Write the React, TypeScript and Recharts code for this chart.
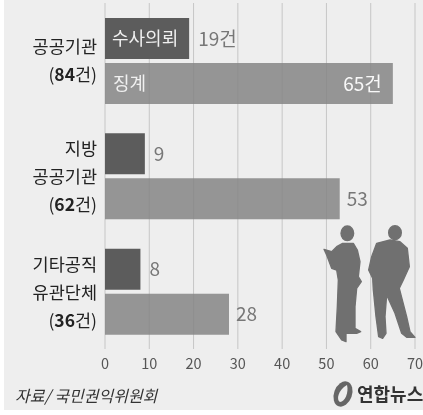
import { BarChart, Bar, XAxis, YAxis, CartesianGrid, LabelList } from 'recharts'

const CATEGORIES = ['공공기관 (84건)', '지방 공공기관 (62건)', '기타공직 유관단체 (36건)']
const CATEGORY_LINES = [
  ['공공기관'],
  ['지방', '공공기관'],
  ['기타공직', '유관단체'],
]
const CATEGORY_TOTALS = ['84', '62', '36']
const REFERRAL = [19, 9, 8]
const DISCIPLINE = [65, 53, 28]
const REFERRAL_LABELS = ['19건', '9', '8']
const DISCIPLINE_LABELS = ['65건', '53', '28']
const TICKS = [0, 10, 20, 30, 40, 50, 60, 70]

const data = CATEGORIES.map((name, i) => ({
  name,
  referral: REFERRAL[i],
  discipline: DISCIPLINE[i],
}))

const FONT = '"Noto Sans CJK KR", "Noto Sans", sans-serif'
const LINE_GAP = 28

function CategoryTick({ x, y, payload, index }: any) {
  const row = payload?.index ?? index
  const lines = CATEGORY_LINES[row] ?? []
  const start = y - (lines.length * LINE_GAP) / 2 + 6 + row
  const tx = x + 8
  return (
    <text x={tx} y={start} textAnchor="end" fontFamily={FONT} fontSize={17.5} fill="#222">
      {lines.map((line, i) => (
        <tspan key={line} x={tx} y={start + i * LINE_GAP}>
          {line}
        </tspan>
      ))}
      <tspan x={tx} y={start + lines.length * LINE_GAP}>
        (<tspan fontWeight={700}>{CATEGORY_TOTALS[row]}</tspan>건)
      </tspan>
    </text>
  )
}

function referralLabel({ x, y, width, height, index }: any) {
  const cy = y + height / 2 + 6
  return (
    <g fontFamily={FONT}>
      {index === 0 && (
        <text x={x + 7} y={cy} fontSize={18} fill="#f0f0f0">
          수사의뢰
        </text>
      )}
      <text x={x + width + 9} y={cy + 1} fontSize={19} fill="#777">
        {REFERRAL_LABELS[index]}
      </text>
    </g>
  )
}

function disciplineLabel({ x, y, width, height, index }: any) {
  const cy = y + height / 2 + 6
  if (index === 0) {
    return (
      <g fontFamily={FONT}>
        <text x={x + 8} y={cy} fontSize={18} fill="#f0f0f0">
          징계
        </text>
        <text x={x + width - 11} y={cy + 1} fontSize={19} textAnchor="end" fill="#f8f8f8">
          {DISCIPLINE_LABELS[index]}
        </text>
      </g>
    )
  }
  return (
    <text x={x + width + 7} y={cy + 1} fontFamily={FONT} fontSize={19} fill="#777">
      {DISCIPLINE_LABELS[index]}
    </text>
  )
}

export default function App() {
  return (
    <div style={{ position: 'absolute', left: 0, top: 0, width: 423, height: 415, background: '#fff', overflow: 'hidden' }}>
      <div style={{ position: 'absolute', left: 4, top: 0, width: 419, height: 410, background: '#eeeeee' }} />
      <div style={{ position: 'absolute', left: 0, top: 0, width: 423, height: 415, filter: 'blur(0.7px)' }}>
        <BarChart
          width={423}
          height={415}
          data={data}
          layout="vertical"
          barSize={41}
          barGap={4}
          barCategoryGap={0}
          margin={{ top: 3, right: 8, bottom: 36, left: 0 }}
        >
          <CartesianGrid horizontal={false} stroke="#c6c6c6" />
          <XAxis
            type="number"
            domain={[0, 70]}
            ticks={TICKS}
            axisLine={false}
            tickLine={false}
            height={30}
            interval={0}
            tick={{ fontSize: 14.5, fill: '#555', fontFamily: FONT }}
            tickMargin={4}
          />
          <YAxis
            type="category"
            dataKey="name"
            width={105}
            axisLine={false}
            tickLine={false}
            interval={0}
            tick={<CategoryTick />}
            tickMargin={10}
          />
          <Bar dataKey="referral" fill="#5c5c5c" isAnimationActive={false}>
            <LabelList content={referralLabel} />
          </Bar>
          <Bar dataKey="discipline" fill="#858585" fillOpacity={0.85} isAnimationActive={false}>
            <LabelList content={disciplineLabel} />
          </Bar>
        </BarChart>

        <svg width={423} height={415} style={{ position: 'absolute', left: 0, top: 0 }}>
          <g transform="translate(300 200) scale(0.3333)" fill="#707070" stroke="#707070" strokeWidth={4} strokeLinejoin="round">
            <ellipse cx={142} cy={100} rx={19} ry={22} />
            <path d="M72 148 L95 155 L110 140 L128 130 L160 130 L172 150 L180 185 L175 230 L184 245 L170 265 L165 320 L165 385 L182 395 L170 400 L138 400 L138 425 L125 420 L108 395 L112 320 L115 240 L110 210 L95 205 L80 165 Z" />
            <ellipse cx={285} cy={98} rx={19} ry={21} />
            <path d="M230 130 L270 120 L300 125 L322 145 L328 200 L310 240 L298 265 L320 350 L330 395 L345 412 L320 412 L305 400 L285 340 L260 285 L255 350 L258 400 L248 415 L236 410 L228 350 L220 270 L218 235 L206 210 L215 170 Z" />
          </g>
          <ellipse cx={343} cy={394} rx={9} ry={13} transform="rotate(20 343 394)" fill="#666" />
          <path d="M347 385 C338 390 336 400 340 402 C345 402 349 392 347 385 Z" fill="#eee" />
          <text x={15} y={402} fontFamily={FONT} fontSize={16} fontStyle="italic" fill="#333">
            자료/ 국민권익위원회
          </text>
          <text x={357} y={401} fontFamily={FONT} fontSize={18} fontWeight={700} fill="#333">
            연합뉴스
          </text>
        </svg>
      </div>
    </div>
  )
}
